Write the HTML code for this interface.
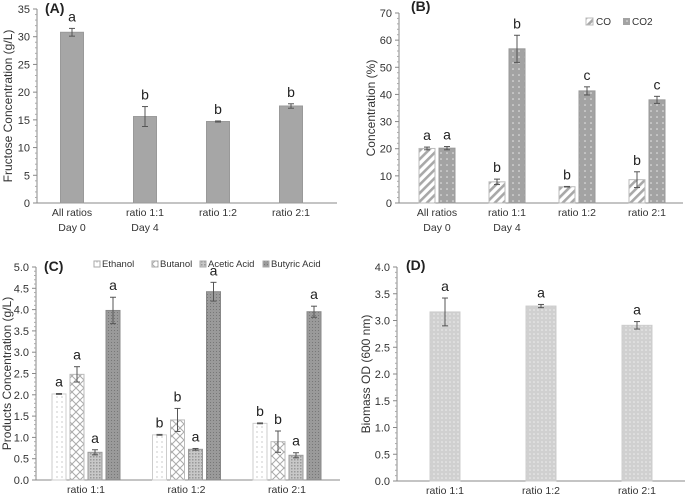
<!DOCTYPE html>
<html><head><meta charset="utf-8"><style>
body{margin:0;background:#fff}
svg{display:block;font-family:"Liberation Sans",sans-serif}
</style></head><body>
<svg id="c" width="685" height="498" viewBox="0 0 685 498" xmlns="http://www.w3.org/2000/svg">
<defs>
<pattern id="hatch" width="6" height="6" patternUnits="userSpaceOnUse" patternTransform="rotate(45)"><rect width="6" height="6" fill="#fff"/><rect width="2.6" height="6" fill="#a8a8a8"/></pattern>
<pattern id="dots" width="6" height="6" patternUnits="userSpaceOnUse"><rect width="6" height="6" fill="#a3a3a3"/><circle cx="3" cy="3" r="0.8" fill="#e8e8e8"/></pattern>
<pattern id="sdots" width="5" height="5" patternUnits="userSpaceOnUse"><rect width="5" height="5" fill="#fff"/><circle cx="2" cy="2" r="0.6" fill="#aaa"/></pattern>
<pattern id="cross" width="8" height="8" patternUnits="userSpaceOnUse"><rect width="8" height="8" fill="#fff"/><path d="M0 0L8 8M8 0L0 8" stroke="#aaa" stroke-width="1"/></pattern>
<pattern id="check" width="3" height="3" patternUnits="userSpaceOnUse"><rect width="3" height="3" fill="#c8c8c8"/><rect width="1.5" height="1.5" fill="#999"/></pattern>
<pattern id="dark" width="3" height="3" patternUnits="userSpaceOnUse"><rect width="3" height="3" fill="#9a9a9a"/><rect width="1" height="1" fill="#777"/></pattern>
<pattern id="light" width="4" height="4" patternUnits="userSpaceOnUse"><rect width="4" height="4" fill="#d0d0d0"/><circle cx="2" cy="2" r="0.8" fill="#eee"/></pattern>
</defs>
</svg>
<script>
const catsA=["All ratios|Day 0","ratio 1:1|Day 4","ratio 1:2","ratio 2:1"];
const valsA=[30.8,15.6,14.7,17.5];
const errA=[0.7,1.8,0.1,0.4];
const letA=["a","b","b","b"];
const catsB=["All ratios|Day 0","ratio 1:1|Day 4","ratio 1:2","ratio 2:1"];
const valsCO=[20.1,7.8,6.0,8.6];
const errCO=[0.5,1.0,0.1,2.9];
const valsCO2=[20.2,56.8,41.3,38.0];
const errCO2=[0.6,5.0,1.5,1.3];
const letCO=["a","b","b","b"];
const letCO2=["a","b","c","c"];
const catsC=["ratio 1:1","ratio 1:2","ratio 2:1"];
const valsEth=[2.02,1.06,1.33];
const errEth=[0.01,0.01,0.01];
const valsBut=[2.48,1.41,0.90];
const errBut=[0.18,0.27,0.25];
const valsAce=[0.65,0.72,0.58];
const errAce=[0.06,0.02,0.06];
const valsBuy=[3.98,4.42,3.95];
const errBuy=[0.31,0.22,0.13];
const letC=[["a","a","a","a"],["b","b","a","a"],["b","b","a","a"]];
const catsD=["ratio 1:1","ratio 1:2","ratio 2:1"];
const valsD=[3.16,3.27,2.91];
const errD=[0.26,0.03,0.07];
const letD=["a","a","a"];

const svg=document.getElementById('c');
const NS="http://www.w3.org/2000/svg";
function mk(tag,at,txt){const e=document.createElementNS(NS,tag);for(const k in at)e.setAttribute(k,at[k]);if(txt!==undefined)e.textContent=txt;svg.appendChild(e);return e;}

function axes(p){
  const y=v=>p.y0-(v/p.max)*(p.y0-p.yTop);
  let ax=mk('line',{x1:p.x0,y1:p.yTop,x2:p.x0,y2:p.y0,stroke:'#888'});
  
  
  let bx=mk('line',{x1:p.x0,y1:p.y0,x2:p.xEnd,y2:p.y0,stroke:'#888'});
  
  
  for(let v=0;v<=p.max+1e-9;v+=p.step){
    mk('line',{x1:p.x0-4,y1:y(v),x2:p.x0,y2:y(v),stroke:'#888'});
    let t=mk('text',{x:p.x0-7,y:y(v)+4,'font-size':11,'text-anchor':'end',fill:'#333'},v.toFixed(p.dec));
    
    
    if(v+p.step<=p.max+1e-9){for(let k=1;k<5;k++){const mv=v+p.step*k/5;mk('line',{x1:p.x0-2,y1:y(mv),x2:p.x0,y2:y(mv),stroke:'#aaa'});}}
  }
  const cy=(p.y0+p.yTop)/2;
  let tt=mk('text',{x:p.titleX,y:cy,'font-size':12,'text-anchor':'middle',fill:'#333',transform:`rotate(-90 ${p.titleX} ${cy})`},p.title);
  
  
  let pl=mk('text',{x:p.labelX,y:p.labelY,'font-size':14,'font-weight':'bold',fill:'#222'},p.label);
  
  
  return y;
}
function bar(y,cx,w,v,e,fill,stroke,let_,name){
  let r=mk('rect',{x:cx-w/2,y:y(v),width:w,height:y(0)-y(v),fill:fill,stroke:stroke,'stroke-width':1});
  
  
  const t=y(v+e),b=y(Math.max(0,v-e));
  mk('line',{x1:cx,y1:t,x2:cx,y2:b,stroke:'#555'});
  mk('line',{x1:cx-3,y1:t,x2:cx+3,y2:t,stroke:'#555'});
  mk('line',{x1:cx-3,y1:b,x2:cx+3,y2:b,stroke:'#555'});
  let l=mk('text',{x:cx,y:t-7,'font-size':14,'text-anchor':'middle',fill:'#222'},let_);
  
  
}
function cat(cx,y0,label,id){
  label.split('|').forEach((s,i)=>{
    let t=mk('text',{x:cx,y:y0+13+i*15,'font-size':10.5,'text-anchor':'middle',fill:'#333'},s);
    
    
  });
}
// Panel A
{const p={id:'panel-a',x0:37,y0:203,yTop:9,xEnd:337,max:35,step:5,dec:0,title:'Fructose Concentration (g/L)',titleX:12,label:'(A)',labelX:45,labelY:13};
const y=axes(p);
catsA.forEach((c,i)=>{const cx=72+i*73;bar(y,cx,23,valsA[i],errA[i],'#a6a6a6','#999',letA[i],'bar-fructose-'+i);cat(cx,p.y0,c,p.id);});}
// Panel B
{const p={id:'panel-b',x0:399,y0:203,yTop:13,xEnd:683,max:70,step:10,dec:0,title:'Concentration (%)',titleX:375,label:'(B)',labelX:411,labelY:11};
const y=axes(p);
catsB.forEach((c,i)=>{const cx=437+i*70;bar(y,cx-10,16,valsCO[i],errCO[i],'url(#hatch)','#bbb',letCO[i],'bar-co-'+i);bar(y,cx+10,16,valsCO2[i],errCO2[i],'url(#dots)','#999',letCO2[i],'bar-co2-'+i);cat(cx,p.y0,c,p.id);});
let s=mk('rect',{x:586,y:18,width:7,height:7,fill:'url(#hatch)',stroke:'#bbb'});
let t=mk('text',{x:596,y:25,'font-size':10,fill:'#333'},'CO');
s=mk('rect',{x:623,y:18,width:7,height:7,fill:'url(#dots)'});
t=mk('text',{x:632,y:25,'font-size':10,fill:'#333'},'CO2');}
// Panel C
{const p={id:'panel-c',x0:36,y0:480,yTop:267,xEnd:340,max:5,step:0.5,dec:1,title:'Products Concentration (g/L)',titleX:11,label:'(C)',labelX:44,labelY:271};
const y=axes(p);
const series=[[valsEth,errEth,'url(#sdots)','#ccc','ethanol'],[valsBut,errBut,'url(#cross)','#bbb','butanol'],[valsAce,errAce,'url(#check)','#999','acetic-acid'],[valsBuy,errBuy,'url(#dark)','#888','butyric-acid']];
catsC.forEach((c,i)=>{const cx=86+i*100.5;series.forEach((s,j)=>{bar(y,cx-27+j*18,14,s[0][i],s[1][i],s[2],s[3],letC[i][j],'bar-'+s[4]+'-'+i);});cat(cx,p.y0,c,p.id);});
const names=['Ethanol','Butanol','Acetic Acid','Butyric Acid'];const lx=[94,152,200,263];
names.forEach((n,j)=>{let s=mk('rect',{x:lx[j],y:261,width:6,height:6,fill:series[j][2],stroke:'#aaa'});
let t=mk('text',{x:lx[j]+8,y:267,'font-size':9.5,fill:'#333'},n);});}
// Panel D
{const p={id:'panel-d',x0:397,y0:481,yTop:267,xEnd:685,max:4,step:0.5,dec:1,title:'Biomass OD (600 nm)',titleX:370,label:'(D)',labelX:406,labelY:270};
const y=axes(p);
catsD.forEach((c,i)=>{const cx=445+i*96;bar(y,cx,30,valsD[i],errD[i],'url(#light)','#ccc',letD[i],'bar-biomass-'+i);cat(cx,p.y0,c,p.id);});}
</script>
</body></html>
